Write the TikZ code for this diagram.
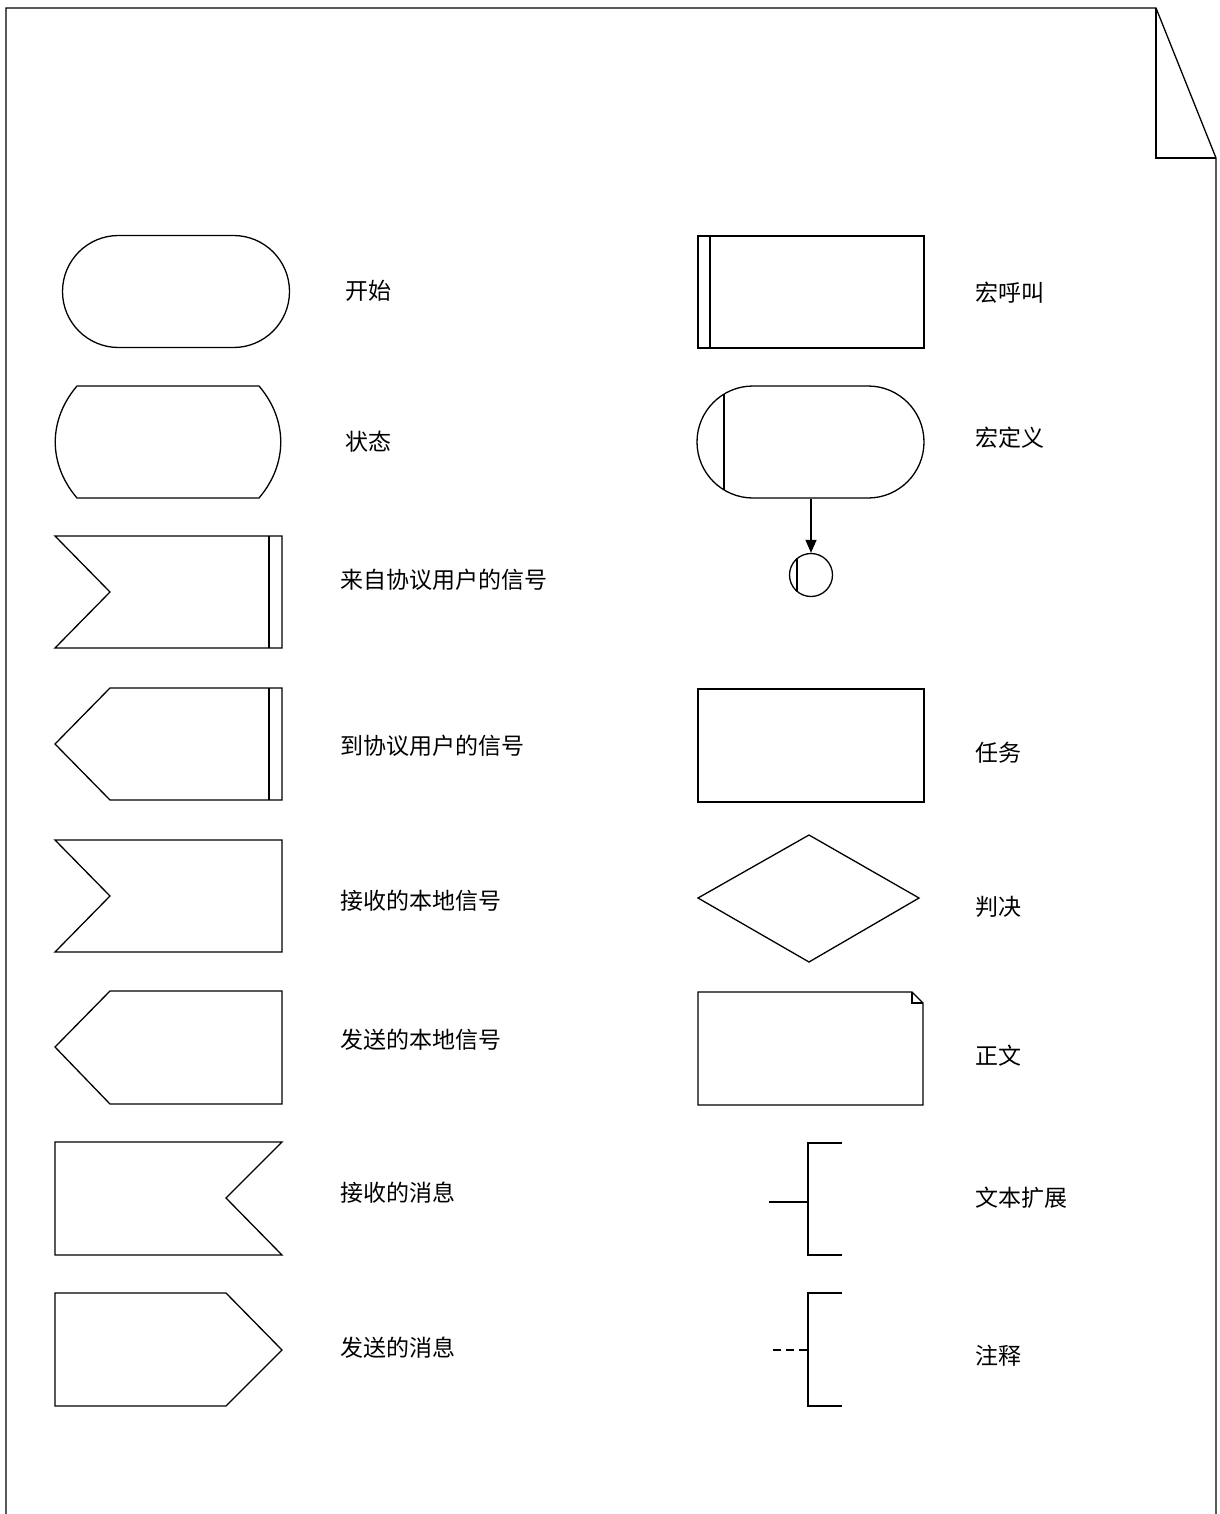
\documentclass[tikz,border=0pt]{standalone}
\usepackage{fontspec}
\newfontfamily\cjk{Noto Sans CJK SC}
\usetikzlibrary{positioning,shapes.misc,arrows.meta}

\begin{document}
\begin{tikzpicture}[%
    x=1pt, y=-1pt,              % work in pixels of the page, y going down
    line width=1.3pt,
    >={Triangle[length=13pt,width=11pt]},
    ]

\tikzset{
    base/.style={draw, line width=1.3pt},
    terminal/.style={base, rounded rectangle, minimum width=227pt, minimum height=112pt, inner sep=0pt},
    conn/.style={base, circle, minimum size=43pt, inner sep=0pt},
    txt/.style={anchor=west, inner sep=0pt, font={\cjk\fontsize{23}{28}\selectfont}},
    aref/.style={base, dash pattern=on 8pt off 5pt},
}

\useasboundingbox (0,0) rectangle (1219,1514);

%% Page with folded corner
\draw[base] (6,1514) -- (6,8) -- (1156,8) -- (1216,158) -- (1216,1514);
\draw[base] (1156,8) -- (1156,158) -- (1216,158);

%% Left column
\node [terminal] (start) at (176,291.5) {};
\node [txt] (starttxt) at (345,291) {开始};

\draw[base] (77,386) -- (259,386)
    .. controls (288,420) and (288,464) .. (259,498) -- (77,498)
    .. controls (48,464) and (48,420) .. (77,386) -- cycle;
\node [txt] (statetxt) at (345,442) {状态};

\draw[base] (55,536) -- (282,536) -- (282,648) -- (55,648) -- (110,592) -- cycle;
\draw[base] (269,536) -- (269,648);
\node [txt] (insigtxt) at (340,580) {来自协议用户的信号};

\draw[base] (110,688) -- (282,688) -- (282,800) -- (110,800) -- (55,744) -- cycle;
\draw[base] (269,688) -- (269,800);
\node [txt] (outsigtxt) at (340,746) {到协议用户的信号};

\draw[base] (55,840) -- (282,840) -- (282,952) -- (55,952) -- (110,896) -- cycle;
\node [txt] (inlocaltxt) at (340,901) {接收的本地信号};

\draw[base] (110,991) -- (282,991) -- (282,1104) -- (110,1104) -- (55,1047) -- cycle;
\node [txt] (outlocaltxt) at (340,1040) {发送的本地信号};

\draw[base] (55,1142) -- (282,1142) -- (226,1198) -- (282,1255) -- (55,1255) -- cycle;
\node [txt] (inmsgtxt) at (340,1193) {接收的消息};

\draw[base] (55,1293) -- (226,1293) -- (282,1350) -- (226,1406) -- (55,1406) -- cycle;
\node [txt] (outmsgtxt) at (340,1348) {发送的消息};

%% Right column
\draw[base] (698,236) rectangle (924,348);
\draw[base] (710,236) -- (710,348);
\node [txt] (mcalltxt) at (975,293) {宏呼叫};

\node [terminal] (mdef) at (810.5,442) {};
\draw[base] (724,394) -- (724,490);
\node [txt] (mdeftxt) at (975,438) {宏定义};

\node [conn] (mref) at (811,575) {};
\draw[base] (797,558) -- (797,592);
    \draw[base,->] (mdef.south -| mref) -- (mref.north);

\draw[base] (698,689) rectangle (924,802);
\node [txt] (tasktxt) at (975,753) {任务};

\draw[base] (698,898) -- (809,835) -- (919,898) -- (809,962) -- cycle;
\node [txt] (decisiontxt) at (975,907) {判决};

\draw[base] (698,992) -- (912,992) -- (923,1003) -- (923,1105) -- (698,1105) -- cycle;
\draw[base] (912,992) -- (912,1003) -- (923,1003);
\node [txt] (texttxt) at (975,1056) {正文};

\draw[base] (842,1143) -- (808,1143) -- (808,1255) -- (842,1255);
\draw[base] (769,1202) -- (808,1202);
\node [txt] (exttxt) at (975,1198) {文本扩展};

\draw[base] (842,1293) -- (808,1293) -- (808,1406) -- (842,1406);
\draw[aref] (773,1350) -- (808,1350);
\node [txt] (commenttxt) at (975,1356) {注释};

\end{tikzpicture}
\end{document}
